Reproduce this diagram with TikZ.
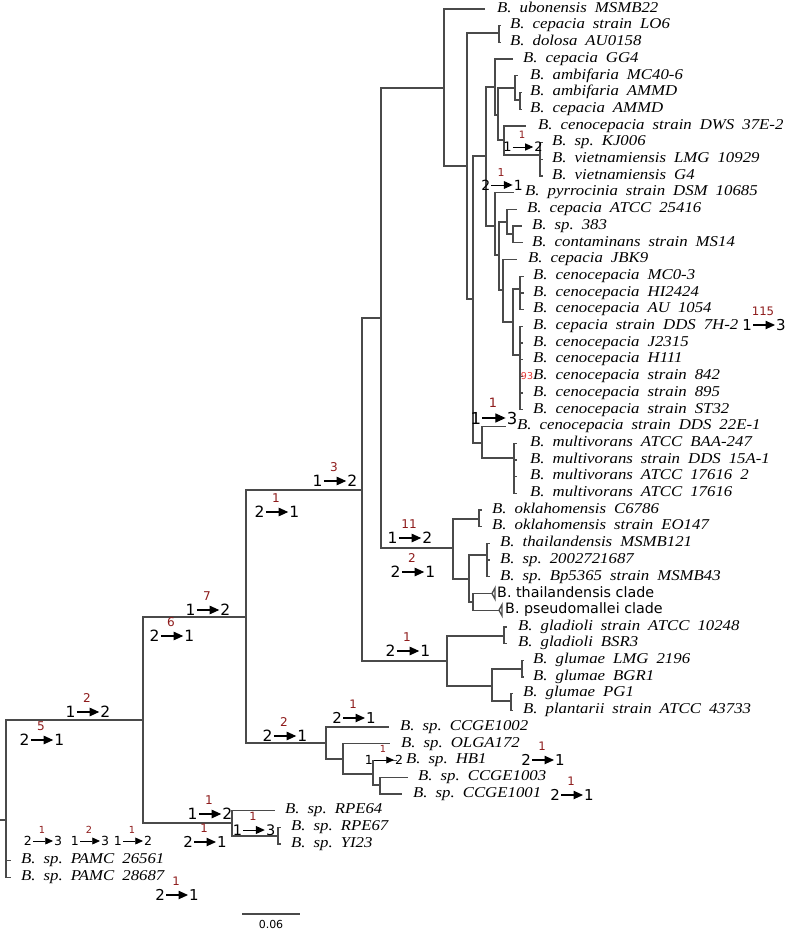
\documentclass[tikz,border=0pt]{standalone}
\usepackage{fontspec}
\setmainfont{Liberation Serif}
\newfontfamily\leaffont[FakeStretch=1.12]{Liberation Serif}
\newfontfamily\dejavu{DejaVu Sans}
\usetikzlibrary{arrows.meta}
\definecolor{treegray}{HTML}{4A4A4A}
\definecolor{chgred}{HTML}{8E1B1B}
\definecolor{brightred}{HTML}{E53935}
\newcommand\leafstyle{\leaffont\itshape\fontsize{15}{16}\selectfont\frenchspacing\spaceskip=8pt\relax}
\newcommand\chgfont[1]{\pgfmathsetmacro\chgfs{#1}\dejavu\fontsize{\chgfs}{\chgfs}\selectfont}
\tikzset{
  branch/.style={draw=treegray, line width=1.3pt},
  leaf/.style={anchor=west, inner sep=0pt, font=\leafstyle, text height=10pt, text depth=3.5pt},
  cladelab/.style={anchor=west, inner sep=0pt, font=\dejavu\fontsize{14.3}{16}\selectfont, text height=10pt, text depth=3pt},
  chgdig/.style={inner sep=1pt, text=black},
  chgnum/.style={inner sep=0pt, text=chgred},
}
% #1 name, #2 x, #3 y, #4 from, #5 count, #6 to, #7 size
\newcommand\chg[7]{%
  \pgfmathsetmacro\chgL{5+0.4*#7}%
  \pgfmathsetmacro\chgH{0.62*#7}%
  \pgfmathsetmacro\chgW{0.55*#7}%
  \pgfmathsetmacro\chgLW{0.07*#7}%
  \node[chgdig, font=\chgfont{#7}, anchor=east] (#1-a) at ({#2-\chgL},{#3}) {#4};
  \node[chgdig, font=\chgfont{#7}, anchor=west] (#1-b) at ({#2+\chgL},{#3}) {#6};
  \draw[line width={\chgLW pt}, -{Triangle[length={\chgH pt}, width={\chgW pt}]}] (#1-a.east) -- (#1-b.west);
  \node[chgnum, font=\chgfont{0.78*#7}] (#1-n) at ({#2-1},{#3-0.92*#7}) {#5};
}
\begin{document}
\begin{tikzpicture}[x=1pt, y=-1pt]
\useasboundingbox (0,0) rectangle (788,931);
\fill[white] (0,0) rectangle (788,931);

% internal nodes
\coordinate (r0) at (0,820);
\coordinate (root) at (6,820);
\coordinate (n1) at (143,720);
\coordinate (n2) at (246,617);
\coordinate (n3) at (232,823);
\coordinate (n4) at (278,836);
\coordinate (n5) at (362,490);
\coordinate (n6) at (326,743);
\coordinate (n7) at (343,759);
\coordinate (n8) at (373,774);
\coordinate (n9) at (380,785);
\coordinate (n10) at (381,318);
\coordinate (n11) at (447,661);
\coordinate (ng) at (504,636);
\coordinate (n12) at (492,686);
\coordinate (ngl) at (522,669);
\coordinate (npl) at (511,701);
\coordinate (n13) at (444,88);
\coordinate (n14) at (453,548);
\coordinate (nok) at (479,519);
\coordinate (n15) at (469,579);
\coordinate (n16) at (487,555);
\coordinate (n17) at (473,602);
\coordinate (n18) at (467,166);
\coordinate (nld) at (499,33);
\coordinate (n19) at (473,299);
\coordinate (n20) at (486,156);
\coordinate (n21) at (482,443);
\coordinate (n22) at (514,458);
\coordinate (n23) at (495,87);
\coordinate (n24) at (495,226);
\coordinate (n25) at (498,115);
\coordinate (n26) at (515,88);
\coordinate (na) at (520,100);
\coordinate (n27) at (504,140);
\coordinate (n28) at (540,155);
\coordinate (n29) at (499,255);
\coordinate (n30) at (507,222);
\coordinate (n31) at (503,290);
\coordinate (n32) at (513,234);
\coordinate (n33) at (513,322);
\coordinate (n34) at (520,289);
\coordinate (n35) at (520,355);

% leaf branch ends
\coordinate (e1) at (485,9);
\coordinate (e2) at (501,25.7);
\coordinate (e3) at (501,42.4);
\coordinate (e4) at (513,59.1);
\coordinate (e5) at (518,75.8);
\coordinate (e6) at (522,92.5);
\coordinate (e7) at (522,109.2);
\coordinate (e8) at (526,125.9);
\coordinate (e9) at (543,142.6);
\coordinate (e10) at (543,159.3);
\coordinate (e11) at (543,176);
\coordinate (e12) at (514,192.7);
\coordinate (e13) at (517,209.4);
\coordinate (e14) at (522,226.1);
\coordinate (e15) at (523,242.8);
\coordinate (e16) at (517,259.5);
\coordinate (e17) at (524,276.2);
\coordinate (e18) at (524,292.9);
\coordinate (e19) at (524,309.6);
\coordinate (e20) at (523,326.3);
\coordinate (e21) at (523,343);
\coordinate (e22) at (523,359.7);
\coordinate (e23) at (523,376.4);
\coordinate (e24) at (523,393.1);
\coordinate (e25) at (523,409.8);
\coordinate (e26) at (506,426.5);
\coordinate (e27) at (517,443.2);
\coordinate (e28) at (517,459.9);
\coordinate (e29) at (517,476.6);
\coordinate (e30) at (517,493.3);
\coordinate (e31) at (482,510);
\coordinate (e32) at (482,526.7);
\coordinate (e33) at (490,543.4);
\coordinate (e34) at (490,560.1);
\coordinate (e35) at (490,576.8);
\coordinate (t36) at (492,593.5);
\coordinate (t37) at (499,610.2);
\coordinate (e38) at (507,626.9);
\coordinate (e39) at (507,643.6);
\coordinate (e40) at (524,660.3);
\coordinate (e41) at (524,677);
\coordinate (e42) at (513,693.7);
\coordinate (e43) at (513,710.4);
\coordinate (e44) at (389,727.1);
\coordinate (e45) at (390,743.8);
\coordinate (e46) at (397,760.5);
\coordinate (e47) at (408,777.2);
\coordinate (e48) at (402,793.9);
\coordinate (e49) at (275,810.6);
\coordinate (e50) at (281,827.3);
\coordinate (e51) at (281,844);
\coordinate (e52) at (11,860.7);
\coordinate (e53) at (11,877.4);

% branches
\draw[branch] (r0) -- (root);
\foreach \p/\c in {root/n1, root/e52, root/e53, n1/n2, n1/n3, n2/n5, n2/n6,
  n3/e49, n3/n4, n4/e50, n4/e51, n6/e44, n6/n7, n7/e45, n7/n8, n8/e46, n8/n9,
  n9/e47, n9/e48, n5/n10, n5/n11, n11/ng, n11/n12, ng/e38, ng/e39, n12/ngl,
  n12/npl, ngl/e40, ngl/e41, npl/e42, npl/e43, n10/n13, n10/n14, n14/nok,
  n14/n15, nok/e31, nok/e32, n15/n16, n15/n17, n16/e33, n16/e34, n16/e35,
  n17/t36, n17/t37, n13/e1, n13/n18, n18/nld, n18/n19, nld/e2, nld/e3,
  n19/n20, n19/n21, n21/e26, n21/n22, n22/e27, n22/e28, n22/e29, n22/e30,
  n20/n23, n20/n24, n23/e4, n23/n25, n25/n26, n25/n27, n26/e5, n26/na,
  na/e6, na/e7, n27/e8, n27/n28, n28/e9, n28/e10, n28/e11, n24/e12, n24/n29,
  n29/n30, n29/n31, n30/e13, n30/n32, n32/e14, n32/e15, n31/e16, n31/n33,
  n33/n34, n33/n35, n34/e17, n34/e18, n34/e19, n35/e20, n35/e21, n35/e22,
  n35/e23, n35/e24, n35/e25}
  \draw[branch] (\p) |- (\c);
% collapsed clades
\draw[branch] (t36) -- ++(3,-5.5) -- ++(0,11) -- cycle;
\draw[branch] (t37) -- ++(3,-5.5) -- ++(0,11) -- cycle;

% leaf labels
\node[leaf] (l1) at (497,9) {B. ubonensis MSMB22};
\node[leaf] (l2) at (510,25.7) {B. cepacia strain LO6};
\node[leaf] (l3) at (510,42.4) {B. dolosa AU0158};
\node[leaf] (l4) at (523,59.1) {B. cepacia GG4};
\node[leaf] (l5) at (530,75.8) {B. ambifaria MC40-6};
\node[leaf] (l6) at (530,92.5) {B. ambifaria AMMD};
\node[leaf] (l7) at (530,109.2) {B. cepacia AMMD};
\node[leaf] (l8) at (538,125.9) {B. cenocepacia strain DWS 37E-2};
\node[leaf] (l9) at (552,142.6) {B. sp. KJ006};
\node[leaf] (l10) at (552,159.3) {B. vietnamiensis LMG 10929};
\node[leaf] (l11) at (552,176) {B. vietnamiensis G4};
\node[leaf] (l12) at (525,192.7) {B. pyrrocinia strain DSM 10685};
\node[leaf] (l13) at (527,209.4) {B. cepacia ATCC 25416};
\node[leaf] (l14) at (532,226.1) {B. sp. 383};
\node[leaf] (l15) at (532,242.8) {B. contaminans strain MS14};
\node[leaf] (l16) at (528,259.5) {B. cepacia JBK9};
\node[leaf] (l17) at (533,276.2) {B. cenocepacia MC0-3};
\node[leaf] (l18) at (533,292.9) {B. cenocepacia HI2424};
\node[leaf] (l19) at (533,309.6) {B. cenocepacia AU 1054};
\node[leaf] (l20) at (533,326.3) {B. cepacia strain DDS 7H-2};
\node[leaf] (l21) at (533,343) {B. cenocepacia J2315};
\node[leaf] (l22) at (533,359.7) {B. cenocepacia H111};
\node[leaf] (l23) at (533,376.4) {B. cenocepacia strain 842};
\node[leaf] (l24) at (533,393.1) {B. cenocepacia strain 895};
\node[leaf] (l25) at (533,409.8) {B. cenocepacia strain ST32};
\node[leaf] (l26) at (517,426.5) {B. cenocepacia strain DDS 22E-1};
\node[leaf] (l27) at (530,443.2) {B. multivorans ATCC BAA-247};
\node[leaf] (l28) at (530,459.9) {B. multivorans strain DDS 15A-1};
\node[leaf] (l29) at (530,476.6) {B. multivorans ATCC 17616 2};
\node[leaf] (l30) at (530,493.3) {B. multivorans ATCC 17616};
\node[leaf] (l31) at (492,510) {B. oklahomensis C6786};
\node[leaf] (l32) at (492,526.7) {B. oklahomensis strain EO147};
\node[leaf] (l33) at (500,543.4) {B. thailandensis MSMB121};
\node[leaf] (l34) at (500,560.1) {B. sp. 2002721687};
\node[leaf] (l35) at (500,576.8) {B. sp. Bp5365 strain MSMB43};
\node[cladelab] (l36) at (497,593.5) {B. thailandensis clade};
\node[cladelab] (l37) at (505,610.2) {B. pseudomallei clade};
\node[leaf] (l38) at (518,626.9) {B. gladioli strain ATCC 10248};
\node[leaf] (l39) at (518,643.6) {B. gladioli BSR3};
\node[leaf] (l40) at (533,660.3) {B. glumae LMG 2196};
\node[leaf] (l41) at (533,677) {B. glumae BGR1};
\node[leaf] (l42) at (523,693.7) {B. glumae PG1};
\node[leaf] (l43) at (523,710.4) {B. plantarii strain ATCC 43733};
\node[leaf] (l44) at (400,727.1) {B. sp. CCGE1002};
\node[leaf] (l45) at (401,743.8) {B. sp. OLGA172};
\node[leaf] (l46) at (406,760.5) {B. sp. HB1};
\node[leaf] (l47) at (418,777.2) {B. sp. CCGE1003};
\node[leaf] (l48) at (413,793.9) {B. sp. CCGE1001};
\node[leaf] (l49) at (285,810.6) {B. sp. RPE64};
\node[leaf] (l50) at (291,827.3) {B. sp. RPE67};
\node[leaf] (l51) at (291,844) {B. sp. YI23};
\node[leaf] (l52) at (21,860.7) {B. sp. PAMC 26561};
\node[leaf] (l53) at (21,877.4) {B. sp. PAMC 28687};

% bootstrap value
\node[inner sep=0pt, text=brightred, font=\dejavu\fontsize{9.5}{9.5}\selectfont] (b93) at (527,376) {93};

% character state changes
\chg{c1}{88}{712}{1}{2}{2}{15.5}
\chg{c2}{42}{740}{2}{5}{1}{15.5}
\chg{c3}{208}{610}{1}{7}{2}{15.5}
\chg{c4}{172}{636}{2}{6}{1}{15.5}
\chg{c5}{335}{481}{1}{3}{2}{15.5}
\chg{c6}{277}{512}{2}{1}{1}{15.5}
\chg{c7}{410}{538}{1}{11}{2}{15.5}
\chg{c8}{413}{572}{2}{2}{1}{15.5}
\chg{c9}{408}{651}{2}{1}{1}{15.5}
\chg{c10}{285}{736}{2}{2}{1}{15.5}
\chg{c11}{354}{718}{2}{1}{1}{15}
\chg{c12}{384}{760}{1}{1}{2}{12.5}
\chg{c13}{543}{760}{2}{1}{1}{15}
\chg{c14}{572}{795}{2}{1}{1}{15}
\chg{c15}{210}{814}{1}{1}{2}{15.5}
\chg{c16}{205}{842}{2}{1}{1}{15}
\chg{c17}{254}{830}{1}{1}{3}{14.5}
\chg{c18}{43}{841}{2}{1}{3}{12.5}
\chg{c19}{90}{841}{1}{2}{3}{12.5}
\chg{c20}{133}{841}{1}{1}{2}{12.5}
\chg{c21}{177}{895}{2}{1}{1}{15}
\chg{c22}{523}{147}{1}{1}{2}{13}
\chg{c23}{502}{185}{2}{1}{1}{14}
\chg{c24}{494}{418}{1}{1}{3}{16.5}
\chg{c25}{764}{325}{1}{115}{3}{15}

% scale bar
\coordinate (s1) at (242,914);
\coordinate (s2) at (300,914);
\draw[branch] (s1) -- (s2);
\node[inner sep=0pt, font=\dejavu\fontsize{11}{11}\selectfont] (sl) at (271,924.5) {0.06};
\end{tikzpicture}
\end{document}
